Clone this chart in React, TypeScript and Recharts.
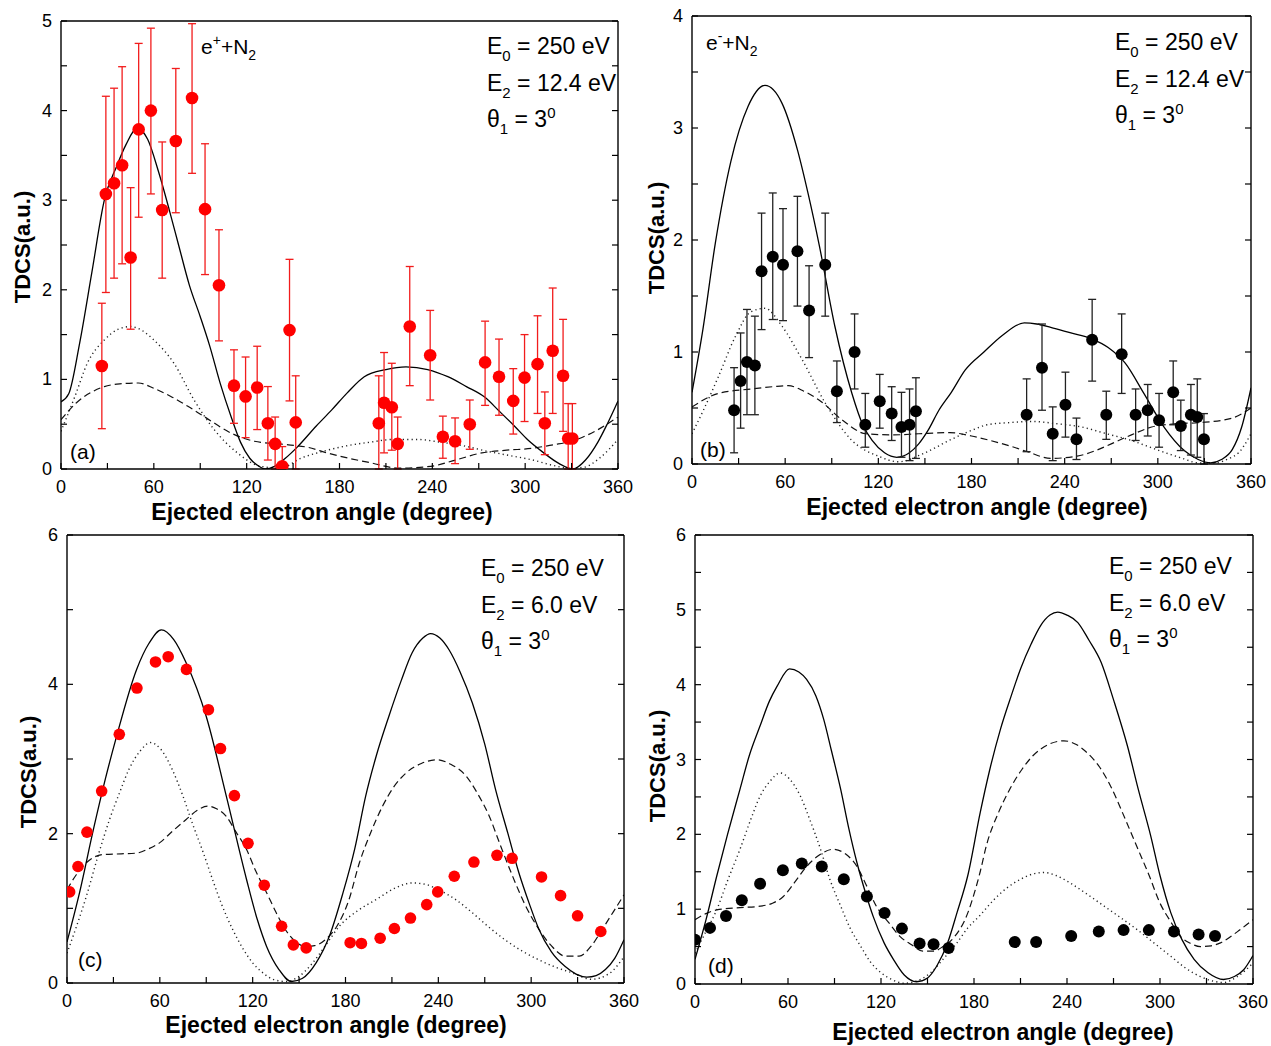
import React from 'react';
import { ComposedChart, Line, Scatter, XAxis, YAxis, ErrorBar } from 'recharts';

const FONT = 'Arial, "Liberation Sans", Helvetica, sans-serif';

// x axis ticks shared by every panel (labels every 60 degrees)
const xTicks = [0, 30, 60, 90, 120, 150, 180, 210, 240, 270, 300, 330, 360];

// ---------- panel (a): e+ + N2, E2 = 12.4 eV ----------
const aX = [26.4, 29, 34.3, 39.5, 45, 50.2, 58.1, 65.4, 74.2, 84.7, 93.1, 102.1, 111.8, 119.3, 126.8, 133.7, 138.4, 143, 147.7, 151.7, 205.4, 208.8, 213.8, 217.6, 225.4, 238.6, 246.8, 254.7, 264.2, 274.1, 283.1, 292.3, 299.6, 308, 312.7, 317.8, 324.5, 327.8, 330.5];
const aY = [1.15, 3.07, 3.19, 3.39, 2.36, 3.79, 4.0, 2.89, 3.66, 4.14, 2.9, 2.05, 0.93, 0.81, 0.91, 0.51, 0.28, 0.03, 1.55, 0.52, 0.51, 0.74, 0.69, 0.28, 1.59, 1.27, 0.36, 0.31, 0.5, 1.19, 1.03, 0.76, 1.02, 1.17, 0.51, 1.32, 1.04, 0.34, 0.34];
const aHi = [1.85, 4.16, 4.25, 4.49, 3.14, 4.75, 4.92, 3.65, 4.47, 4.97, 3.63, 2.67, 1.33, 1.25, 1.37, 0.92, 0.58, 0.25, 2.34, 1.04, 1.04, 1.3, 1.18, 0.58, 2.26, 1.77, 0.59, 0.57, 0.77, 1.65, 1.45, 1.12, 1.5, 1.71, 0.86, 2.02, 1.67, 0.73, 0.73];
const aLo = [0.45, 1.97, 2.13, 2.29, 1.56, 2.81, 3.07, 2.13, 2.86, 3.3, 2.17, 1.43, 0.51, 0.35, 0.44, 0.1, 0, 0, 0.76, 0, 0, 0.18, 0.21, 0, 0.93, 0.77, 0.12, 0.06, 0.22, 0.71, 0.6, 0.39, 0.53, 0.62, 0.16, 0.62, 0.42, 0, 0];
const aSolid = [[0, 0.75], [5, 0.84], [12, 1.4], [20, 2.2], [28, 3.0], [36, 3.38], [42, 3.62], [49, 3.8], [56, 3.68], [63, 3.32], [70, 2.89], [76, 2.5], [83, 2.05], [90, 1.7], [96, 1.38], [103, 0.95], [110, 0.58], [116, 0.3], [122, 0.12], [128, 0.03], [132, 0], [138, 0.03], [145, 0.12], [153, 0.25], [165, 0.48], [175, 0.66], [185, 0.85], [196, 1.03], [210, 1.11], [223, 1.14], [237, 1.11], [250, 1.03], [262, 0.92], [274, 0.8], [283, 0.65], [293, 0.48], [302, 0.32], [312, 0.18], [322, 0.06], [331, 0], [339, 0.1], [347, 0.3], [353, 0.5], [360, 0.76]];
const aDot = [[0, 0.42], [9, 0.81], [17, 1.18], [28, 1.44], [37, 1.56], [45, 1.59], [52, 1.55], [60, 1.44], [73, 1.18], [86, 0.77], [99, 0.44], [114, 0.18], [129, 0.03], [142, 0.01], [155, 0.12], [170, 0.2], [185, 0.26], [200, 0.3], [215, 0.33], [230, 0.33], [245, 0.3], [260, 0.26], [275, 0.2], [290, 0.15], [305, 0.1], [318, 0.04], [328, 0.01], [338, 0.02], [348, 0.12], [360, 0.33]];
const aDash = [[0, 0.55], [10, 0.74], [20, 0.86], [28, 0.92], [38, 0.95], [50, 0.96], [60, 0.9], [71, 0.81], [82, 0.7], [93, 0.58], [110, 0.4], [125, 0.31], [147, 0.27], [160, 0.24], [172, 0.18], [186, 0.12], [200, 0.07], [218, 0.01], [239, 0.03], [255, 0.1], [272, 0.18], [288, 0.21], [304, 0.23], [318, 0.27], [330, 0.31], [345, 0.42], [360, 0.58]];

// ---------- panel (b): e- + N2, E2 = 12.4 eV ----------
const bX = [27.1, 31.3, 35.4, 40.5, 44.8, 52, 58.6, 67.9, 75.4, 85.8, 93.3, 104.7, 111.6, 120.9, 128.6, 134.9, 140.1, 144.2, 215.5, 225.4, 232.3, 240.5, 247.6, 257.7, 266.8, 276.7, 285.7, 293.5, 300.8, 309.9, 314.8, 321.3, 325.4, 329.7];
const bY = [0.48, 0.74, 0.91, 0.88, 1.72, 1.85, 1.78, 1.9, 1.37, 1.78, 0.65, 1.0, 0.35, 0.56, 0.45, 0.33, 0.35, 0.47, 0.44, 0.86, 0.27, 0.53, 0.22, 1.11, 0.44, 0.98, 0.44, 0.48, 0.39, 0.64, 0.34, 0.44, 0.42, 0.22];
const bHi = [0.86, 1.17, 1.38, 1.32, 2.24, 2.42, 2.28, 2.39, 1.77, 2.24, 0.92, 1.34, 0.63, 0.8, 0.69, 0.64, 0.67, 0.77, 0.76, 1.25, 0.51, 0.82, 0.41, 1.47, 0.65, 1.34, 0.67, 0.71, 0.63, 0.92, 0.57, 0.71, 0.76, 0.45];
const bLo = [0.1, 0.32, 0.44, 0.44, 1.2, 1.29, 1.28, 1.41, 0.95, 1.32, 0.37, 0.67, 0.15, 0.32, 0.21, 0.06, 0.03, 0.05, 0.11, 0.48, 0.03, 0.24, 0.04, 0.74, 0.22, 0.63, 0.21, 0.25, 0.15, 0.35, 0.12, 0.08, 0.06, 0];
const bSolid = [[0, 0.64], [7, 1.2], [15, 1.97], [25, 2.7], [36, 3.19], [47, 3.38], [58, 3.22], [68, 2.8], [75, 2.4], [82, 1.95], [92, 1.23], [103, 0.63], [110, 0.35], [116, 0.21], [124, 0.1], [132, 0.06], [140, 0.1], [146, 0.18], [152, 0.3], [159, 0.48], [167, 0.64], [176, 0.84], [188, 1.0], [200, 1.15], [214, 1.26], [222, 1.25], [231, 1.22], [244, 1.17], [257, 1.12], [268, 1.04], [279, 0.9], [291, 0.63], [304, 0.33], [317, 0.12], [326, 0.04], [334, 0.01], [341, 0.04], [348, 0.13], [354, 0.33], [360, 0.68]];
const bDot = [[0, 0.27], [8, 0.5], [17, 0.78], [28, 1.14], [38, 1.36], [47, 1.39], [58, 1.23], [71, 0.93], [86, 0.54], [103, 0.21], [120, 0.07], [133, 0.02], [150, 0.1], [167, 0.22], [180, 0.3], [190, 0.35], [205, 0.37], [219, 0.38], [235, 0.36], [251, 0.33], [267, 0.27], [283, 0.21], [295, 0.15], [305, 0.1], [316, 0.05], [326, 0.01], [337, 0.01], [346, 0.05], [352, 0.1], [360, 0.27]];
const bDash = [[0, 0.51], [17, 0.63], [38, 0.67], [52, 0.69], [62, 0.7], [72, 0.65], [82, 0.57], [97, 0.39], [112, 0.27], [130, 0.26], [146, 0.27], [166, 0.28], [180, 0.25], [192, 0.21], [205, 0.16], [216, 0.11], [231, 0.05], [248, 0.07], [260, 0.12], [270, 0.18], [283, 0.26], [296, 0.33], [312, 0.36], [328, 0.37], [348, 0.41], [360, 0.5]];

// ---------- panel (c): e+ + N2, E2 = 6.0 eV ----------
const cX = [1.7, 7.1, 12.9, 22.4, 33.8, 45.2, 57.2, 65.4, 77.2, 91.4, 99.2, 108.2, 117, 127.5, 138.7, 146.3, 154.6, 183, 190.3, 202.4, 211.6, 222, 232.5, 239.6, 250.3, 263, 277.9, 287.7, 306.7, 319, 330, 345];
const cY = [1.22, 1.56, 2.02, 2.57, 3.33, 3.95, 4.3, 4.37, 4.2, 3.66, 3.14, 2.51, 1.87, 1.31, 0.76, 0.51, 0.47, 0.54, 0.53, 0.6, 0.73, 0.87, 1.05, 1.22, 1.43, 1.62, 1.71, 1.67, 1.42, 1.17, 0.9, 0.69];
const cSolid = [[0, 0.55], [8, 1.2], [17, 2.05], [25, 2.75], [32, 3.3], [45, 4.2], [53, 4.55], [61, 4.73], [69, 4.6], [77, 4.29], [90, 3.57], [103, 2.5], [116, 1.39], [123, 0.85], [129, 0.49], [137, 0.18], [145, 0.02], [152, 0.06], [161, 0.27], [170, 0.65], [178, 1.18], [186, 1.8], [193, 2.5], [200, 3.05], [208, 3.57], [216, 4.05], [223, 4.42], [230, 4.62], [235, 4.68], [241, 4.62], [247, 4.46], [254, 4.17], [262, 3.75], [270, 3.2], [277, 2.59], [285, 2.0], [292, 1.48], [299, 1.05], [305, 0.72], [313, 0.42], [322, 0.22], [329, 0.12], [336, 0.08], [342, 0.1], [348, 0.18], [354, 0.33], [360, 0.58]];
const cDot = [[0, 0.4], [6, 0.75], [12.5, 1.16], [20, 1.7], [27.5, 2.19], [34, 2.55], [40, 2.86], [47, 3.1], [54, 3.22], [61, 3.12], [68, 2.86], [75, 2.5], [81, 2.14], [88, 1.75], [94, 1.39], [100, 1.05], [107, 0.72], [114, 0.45], [120, 0.27], [127, 0.13], [133, 0.05], [142, 0.02], [150, 0.09], [158, 0.25], [167, 0.5], [176, 0.76], [188, 0.97], [200, 1.12], [212, 1.27], [223, 1.34], [232, 1.32], [240, 1.25], [251, 1.12], [262, 0.94], [272, 0.76], [283, 0.58], [294, 0.43], [305, 0.31], [316, 0.21], [326, 0.14], [339, 0.05], [350, 0.12], [360, 0.35]];
const cDash = [[0, 1.25], [6, 1.45], [12.5, 1.61], [18, 1.69], [23, 1.72], [35, 1.73], [45, 1.74], [53, 1.8], [60, 1.88], [68, 2.03], [77, 2.19], [84, 2.31], [91, 2.37], [97, 2.33], [103, 2.23], [109, 2.03], [116, 1.79], [122, 1.5], [129, 1.21], [135, 0.95], [141, 0.72], [148, 0.55], [154, 0.49], [160, 0.5], [167, 0.58], [175, 0.78], [182, 1.1], [189, 1.61], [196, 2.0], [204, 2.37], [211, 2.62], [219, 2.81], [229, 2.94], [239, 2.99], [248, 2.93], [258, 2.77], [265, 2.55], [273, 2.23], [280, 1.85], [288, 1.43], [296, 1.05], [305, 0.72], [313, 0.5], [322, 0.36], [331, 0.36], [339, 0.5], [346, 0.72], [353, 0.95], [360, 1.18]];

// ---------- panel (d): e- + N2, E2 = 6.0 eV ----------
const dX = [0, 9.7, 20, 30.2, 42, 56.7, 68.9, 81.8, 96, 110.9, 122.3, 133.5, 144.9, 153.9, 163.6, 206.3, 220.1, 242.7, 260.5, 276.5, 292.8, 309, 324.9, 335.5];
const dY = [0.59, 0.75, 0.91, 1.12, 1.34, 1.52, 1.61, 1.57, 1.4, 1.17, 0.95, 0.74, 0.54, 0.53, 0.48, 0.56, 0.56, 0.64, 0.7, 0.72, 0.72, 0.7, 0.66, 0.64];
const dSolid = [[0, 0.33], [7, 0.85], [14, 1.44], [21, 2.0], [29, 2.6], [35, 3.05], [42, 3.45], [48, 3.78], [53, 3.98], [61, 4.21], [67, 4.17], [72, 4.07], [78, 3.85], [83, 3.54], [88, 3.12], [94, 2.6], [99, 2.1], [104.5, 1.62], [110, 1.22], [115, 0.9], [122, 0.55], [128, 0.33], [135, 0.12], [143, 0.03], [150, 0.08], [156, 0.24], [163, 0.55], [169, 0.95], [176, 1.45], [184, 2.29], [190, 2.85], [197, 3.4], [204, 3.85], [210, 4.21], [217, 4.55], [223, 4.79], [229, 4.93], [234, 4.97], [240, 4.93], [247, 4.83], [254, 4.6], [262, 4.3], [270, 3.8], [279, 3.18], [286, 2.6], [294, 1.98], [300, 1.45], [307, 0.95], [314, 0.6], [322, 0.33], [331, 0.15], [341, 0.06], [348, 0.1], [354, 0.19], [360, 0.38]];
const dDot = [[0, 0.41], [7, 0.7], [14, 0.99], [21, 1.38], [29, 1.8], [36, 2.2], [42, 2.51], [48, 2.7], [55, 2.82], [61, 2.74], [68, 2.51], [74, 2.2], [81, 1.8], [87, 1.4], [94, 1.04], [100, 0.75], [107, 0.5], [113, 0.3], [120, 0.15], [127, 0.06], [135, 0.01], [143, 0.04], [152, 0.15], [160, 0.33], [169, 0.55], [176, 0.75], [184, 0.92], [193, 1.13], [201, 1.28], [210, 1.4], [218, 1.47], [225, 1.49], [233, 1.45], [242, 1.35], [253, 1.2], [264, 1.04], [275, 0.88], [285, 0.73], [296, 0.55], [307, 0.37], [316, 0.22], [326, 0.1], [334, 0.04], [341, 0.02], [350, 0.1], [360, 0.28]];
const dDash = [[0, 0.86], [7, 0.94], [14, 0.99], [29, 1.02], [42, 1.04], [50, 1.08], [57, 1.17], [64, 1.35], [72, 1.57], [80, 1.72], [89, 1.8], [97, 1.74], [104.5, 1.57], [111, 1.3], [117, 1.04], [125, 0.82], [132, 0.64], [140, 0.52], [147, 0.44], [154, 0.44], [160, 0.5], [167, 0.62], [176, 0.95], [180, 1.2], [184, 1.5], [188, 1.85], [196, 2.3], [203, 2.6], [211, 2.87], [218, 3.05], [228, 3.2], [238, 3.25], [246, 3.2], [253, 3.09], [261, 2.9], [268, 2.65], [276, 2.28], [285, 1.84], [293, 1.45], [300, 1.08], [307, 0.83], [313, 0.64], [320, 0.54], [326, 0.5], [333, 0.51], [339, 0.55], [350, 0.7], [360, 0.86]];

type Pt = { x: number; y: number; err?: [number, number] };

const curve = (pairs: number[][]): Pt[] => pairs.map(([x, y]) => ({ x, y }));
const points = (xs: number[], ys: number[], hi?: number[], lo?: number[]): Pt[] =>
  xs.map((x, i) => {
    const p: Pt = { x, y: ys[i] };
    if (hi && lo) p.err = [ys[i] - lo[i], hi[i] - ys[i]];
    return p;
  });

const range = (max: number, step: number) => {
  const out: number[] = [];
  for (let v = 0; v <= max + 1e-9; v += step) out.push(Math.round(v * 10) / 10);
  return out;
};

interface PanelProps {
  left: number; // plot area, page coords
  top: number;
  width: number;
  height: number;
  yMax: number;
  yStep: number;
  yLabelStep: number;
  solid: Pt[];
  dash: Pt[];
  dot: Pt[];
  data: Pt[];
  color: string;
  barColor?: string;
  r: number;
}

const ML = 50;
const MT = 12;
const MR = 30;
const MB = 40;
const TICK = 6; // inward tick length
const TL = { stroke: '#000', strokeWidth: 1.2 };

const Panel: React.FC<PanelProps> = (p) => {
  const yTicks = range(p.yMax, p.yStep);

  // tick marks are drawn here (pointing inside the frame) along with the labels
  const xTickBottom = (props: any) => {
    const v = props.payload.value;
    const axisY = props.y - 18;
    return (
      <g>
        <line x1={props.x} x2={props.x} y1={axisY} y2={axisY - TICK} {...TL} />
        {v % 60 === 0 && (
          <text x={props.x} y={props.y} textAnchor="middle" dominantBaseline="central" fontSize={18} fontFamily={FONT} fill="#000">
            {v}
          </text>
        )}
      </g>
    );
  };
  const xTickTop = (props: any) => <line x1={props.x} x2={props.x} y1={props.y} y2={props.y + TICK} {...TL} />;
  const yTickLeft = (props: any) => {
    const v = props.payload.value;
    const axisX = props.x + 9;
    const labelled = Math.abs(v / p.yLabelStep - Math.round(v / p.yLabelStep)) < 1e-6;
    return (
      <g>
        <line x1={axisX} x2={axisX + TICK} y1={props.y} y2={props.y} {...TL} />
        {labelled && (
          <text x={props.x} y={props.y} textAnchor="end" dominantBaseline="central" fontSize={18} fontFamily={FONT} fill="#000">
            {v}
          </text>
        )}
      </g>
    );
  };
  const yTickRight = (props: any) => <line x1={props.x} x2={props.x - TICK} y1={props.y} y2={props.y} {...TL} />;

  const axisCommon = {
    allowDataOverflow: true,
    type: 'number' as const,
    interval: 0 as const,
    stroke: '#000',
    axisLine: { stroke: '#000', strokeWidth: 1.4 },
    tickLine: false,
    tickSize: 0,
  };

  // top and right axes are 1px thick (a 0px axis is not drawn), margins absorb that pixel
  return (
    <div style={{ position: 'absolute', left: p.left - ML, top: p.top - MT }}>
      <ComposedChart
        width={p.width + ML + MR}
        height={p.height + MT + MB}
        margin={{ top: MT - 1, right: MR - 1, bottom: 0, left: 0 }}
        style={{ overflow: 'visible' }}
      >
        <XAxis xAxisId="b" dataKey="x" domain={[0, 360]} ticks={xTicks} height={MB} tickMargin={18} tick={xTickBottom} {...axisCommon} />
        <XAxis xAxisId="t" orientation="top" domain={[0, 360]} ticks={xTicks} height={1} tickMargin={0} tick={xTickTop} {...axisCommon} />
        <YAxis yAxisId="l" dataKey="y" domain={[0, p.yMax]} ticks={yTicks} width={ML} tickMargin={9} tick={yTickLeft} {...axisCommon} />
        <YAxis yAxisId="r" orientation="right" domain={[0, p.yMax]} ticks={yTicks} width={1} tickMargin={0} tick={yTickRight} {...axisCommon} />

        <Line xAxisId="b" yAxisId="l" data={p.dot} dataKey="y" type="monotone" stroke="#222" strokeWidth={1.4}
          strokeDasharray="1.2 3.2" dot={false} activeDot={false} isAnimationActive={false} />
        <Line xAxisId="b" yAxisId="l" data={p.dash} dataKey="y" type="monotone" stroke="#111" strokeWidth={1.2}
          strokeDasharray="7 4" dot={false} activeDot={false} isAnimationActive={false} />
        <Line xAxisId="b" yAxisId="l" data={p.solid} dataKey="y" type="monotone" stroke="#000" strokeWidth={1.3}
          dot={false} activeDot={false} isAnimationActive={false} />

        <Scatter
          xAxisId="b"
          yAxisId="l"
          data={p.data}
          dataKey="y"
          isAnimationActive={false}
          shape={(s: any) => <circle cx={s.cx} cy={s.cy} r={p.r} fill={p.color} />}
        >
          {p.barColor && (
            <ErrorBar dataKey="err" direction="y" width={4} stroke={p.barColor} strokeWidth={1.3} isAnimationActive={false} />
          )}
        </Scatter>
      </ComposedChart>
    </div>
  );
};

const Energy: React.FC<{ x: number; y: number; e2: string }> = ({ x, y, e2 }) => (
  <g fontFamily={FONT} fontSize={23} fill="#000">
    <text x={x} y={y}>
      E<tspan fontSize={15} dy={7}>0</tspan>
      <tspan dy={-7}> = 250 eV</tspan>
    </text>
    <text x={x} y={y + 36.5}>
      E<tspan fontSize={15} dy={7}>2</tspan>
      <tspan dy={-7}>{` = ${e2} eV`}</tspan>
    </text>
    <text x={x} y={y + 73}>
      θ<tspan fontSize={15} dy={7}>1</tspan>
      <tspan dy={-7}> = 3</tspan>
      <tspan fontSize={15} dy={-9}>0</tspan>
    </text>
  </g>
);

const Projectile: React.FC<{ x: number; y: number; sign: string }> = ({ x, y, sign }) => (
  <text x={x} y={y} fontFamily={FONT} fontSize={21} fill="#000">
    e<tspan fontSize={14} dy={-9}>{sign}</tspan>
    <tspan dy={9}>+N</tspan>
    <tspan fontSize={14} dy={6}>2</tspan>
  </text>
);

const XTitle: React.FC<{ x: number; y: number }> = ({ x, y }) => (
  <text x={x} y={y} textAnchor="middle" fontFamily={FONT} fontWeight="bold" fontSize={23} fill="#000">
    Ejected electron angle (degree)
  </text>
);

const YTitle: React.FC<{ x: number; y: number }> = ({ x, y }) => (
  <text
    x={x}
    y={y}
    transform={`rotate(-90 ${x} ${y})`}
    textAnchor="middle"
    dominantBaseline="central"
    fontFamily={FONT}
    fontWeight="bold"
    fontSize={22}
    fill="#000"
  >
    TDCS(a.u.)
  </text>
);

const Tag: React.FC<{ x: number; y: number; t: string }> = ({ x, y, t }) => (
  <text x={x} y={y} fontFamily={FONT} fontSize={21} fill="#000">
    {t}
  </text>
);

export default function App() {
  return (
    <div style={{ position: 'absolute', left: 0, top: 0, width: 1271, height: 1046, background: '#fff', fontFamily: FONT }}>
      <Panel left={61} top={21} width={557} height={448} yMax={5} yStep={0.5} yLabelStep={1}
        solid={curve(aSolid)} dash={curve(aDash)} dot={curve(aDot)}
        data={points(aX, aY, aHi, aLo)} color="#ff0000" barColor="#f21c1c" r={6.3} />
      <Panel left={692} top={16} width={559} height={448} yMax={4} yStep={0.5} yLabelStep={1}
        solid={curve(bSolid)} dash={curve(bDash)} dot={curve(bDot)}
        data={points(bX, bY, bHi, bLo)} color="#000" barColor="#222" r={6} />
      <Panel left={67} top={535} width={557} height={448} yMax={6} yStep={1} yLabelStep={2}
        solid={curve(cSolid)} dash={curve(cDash)} dot={curve(cDot)}
        data={points(cX, cY)} color="#ff0000" r={5.8} />
      <Panel left={695} top={535} width={558} height={449} yMax={6} yStep={0.5} yLabelStep={1}
        solid={curve(dSolid)} dash={curve(dDash)} dot={curve(dDot)}
        data={points(dX, dY)} color="#000" r={6} />

      <svg width={1271} height={1046} style={{ position: 'absolute', left: 0, top: 0, pointerEvents: 'none' }}>
        <Projectile x={201} y={54} sign="+" />
        <Projectile x={706} y={50} sign="-" />
        <Energy x={487} y={54} e2="12.4" />
        <Energy x={1115} y={50} e2="12.4" />
        <Energy x={481} y={576} e2="6.0" />
        <Energy x={1109} y={574} e2="6.0" />

        <Tag x={70} y={459} t="(a)" />
        <Tag x={700} y={457} t="(b)" />
        <Tag x={78} y={967} t="(c)" />
        <Tag x={708} y={973} t="(d)" />

        <XTitle x={322} y={520} />
        <XTitle x={977} y={515} />
        <XTitle x={336} y={1033} />
        <XTitle x={1003} y={1040} />

        <YTitle x={22} y={247} />
        <YTitle x={656} y={238} />
        <YTitle x={28} y={772} />
        <YTitle x={657} y={766} />
      </svg>
    </div>
  );
}
